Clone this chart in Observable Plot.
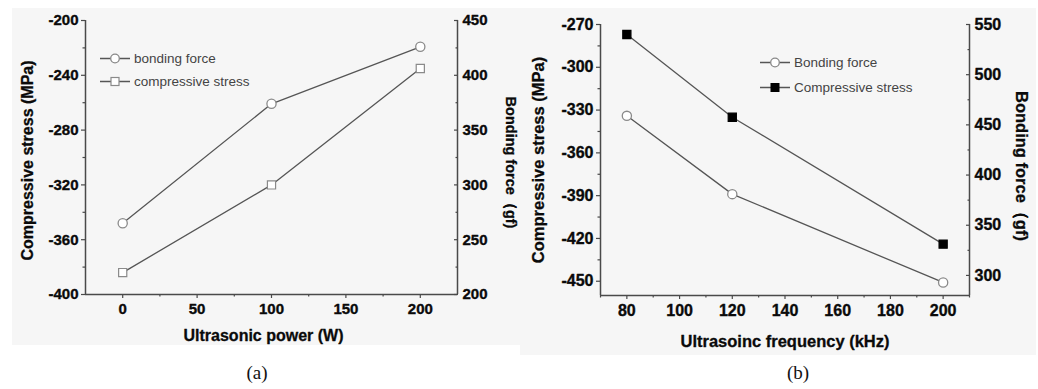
<!DOCTYPE html>
<html>
<head>
<meta charset="utf-8">
<script src="https://cdn.jsdelivr.net/npm/d3@7"></script>
<script src="https://cdn.jsdelivr.net/npm/@observablehq/plot@0.6"></script>
<style>
  html, body { margin: 0; padding: 0; background: #fff; }
  #root { position: relative; width: 1038px; height: 389px; overflow: hidden; background: #fff; font-family: "Liberation Sans", Arial, sans-serif; }
  .bg { position: absolute; background: #f6f6f6; }
  .panel { position: absolute; top: 0; }
  .cap { position: absolute; font-family: "Liberation Serif", "Times New Roman", serif; font-size: 19px; color: #111; transform: translate(-50%, -50%); }
  .legend { position: absolute; font-size: 13.5px; color: #444; }
  .legend .row { position: absolute; left: 0; white-space: nowrap; display: flex; align-items: center; transform: translateY(-50%); }
  .legend svg { display: block; margin-right: 4px; }
</style>
</head>
<body>
<div id="root">
  <div class="bg" style="left:12px;top:8px;width:508px;height:337px"></div>
  <div class="bg" style="left:520px;top:8px;width:516px;height:347px"></div>
  <div class="panel" id="pa" style="left:0px"></div>
  <div class="panel" id="pb" style="left:519px"></div>
  <div class="cap" style="left:257px;top:373px">(a)</div>
  <div class="cap" style="left:798px;top:373px">(b)</div>
  <div class="legend" id="lega" style="left:100px;top:0px"></div>
  <div class="legend" id="legb" style="left:760px;top:0px"></div>
</div>
<script>
// ---------- Data: panel (a) ----------
const aPower = [0, 100, 200];
const aBondingForce = [265, 374, 426];        // gf (right axis)
const aCompressiveStress = [-384, -320, -235]; // MPa (left axis)
const aXTicks = [0, 50, 100, 150, 200];
const aXMinor = [25, 75, 125, 175];
const aLeftTicks = [-400, -360, -320, -280, -240, -200];
const aLeftMinor = [-380, -340, -300, -260, -220];
const aRightTicks = [200, 250, 300, 350, 400, 450];
const aRightMinor = [225, 275, 325, 375, 425];

// ---------- Data: panel (b) ----------
const bFrequency = [80, 120, 200];
const bBondingForce = [459, 381, 293];         // gf (right axis)
const bCompressiveStress = [-277, -335, -424]; // MPa (left axis)
const bXTicks = [80, 100, 120, 140, 160, 180, 200];
const bXMinor = [70, 90, 110, 130, 150, 170, 190, 210];
const bLeftTicks = [-450, -420, -390, -360, -330, -300, -270];
const bLeftMinor = [-435, -405, -375, -345, -315, -285];
const bRightTicks = [300, 350, 400, 450, 500, 550];
const bRightMinor = [325, 375, 425, 475, 525];

const AX = "#4a4a4a";
const LINE = "#555";
const FONT = "'Liberation Sans', Arial, sans-serif";

function panel(cfg) {
  const [l0, l1] = cfg.leftDomain, [r0, r1] = cfg.rightDomain;
  const toLeft = r => l0 + (r - r0) * (l1 - l0) / (r1 - r0);
  const rows = cfg.x.map((x, i) => ({x, stress: cfg.stress[i], bond: toLeft(cfg.bond[i])}));
  const tl = {fontSize: cfg.tickFont, fontWeight: "bold", fill: "#0a0a0a", stroke: "#0a0a0a", strokeWidth: 0.35, fontFamily: FONT};
  const ttl = {fontWeight: "bold", fill: "#0a0a0a", stroke: "#0a0a0a", strokeWidth: 0.3, textAnchor: "middle", lineAnchor: "middle"};
  const tick = {stroke: AX, strokeWidth: 1.2, text: null, label: null};
  return Plot.plot({
    width: 519, height: 389,
    marginLeft: cfg.ml, marginRight: cfg.mr, marginTop: cfg.mt, marginBottom: cfg.mb,
    style: {background: "transparent", fontFamily: FONT, overflow: "visible"},
    x: {domain: cfg.xDomain},
    y: {domain: cfg.leftDomain},
    marks: [
      // ticks (major + minor)
      Plot.axisX({ticks: cfg.xTicks, tickSize: 4, ...tick}),
      Plot.axisX({ticks: cfg.xMinor, tickSize: 2.5, ...tick}),
      Plot.axisY({ticks: cfg.leftTicks, anchor: "left", tickSize: 4, ...tick}),
      Plot.axisY({ticks: cfg.leftMinor, anchor: "left", tickSize: 2.5, ...tick}),
      Plot.axisY({ticks: cfg.rightTicks.map(toLeft), anchor: "right", tickSize: -4, ...tick}),
      Plot.axisY({ticks: cfg.rightMinor.map(toLeft), anchor: "right", tickSize: -2.5, ...tick}),
      // tick labels
      Plot.text(cfg.xTicks, {x: d => d, text: d => String(d), frameAnchor: "bottom", dy: 9, lineAnchor: "top", textAnchor: "middle", ...tl}),
      Plot.text(cfg.leftTicks, {y: d => d, text: d => String(d), frameAnchor: "left", dx: -7, textAnchor: "end", lineAnchor: "middle", ...tl}),
      Plot.text(cfg.rightTicks, {y: d => toLeft(d), text: d => String(d), frameAnchor: "right", dx: 5, textAnchor: "start", lineAnchor: "middle", ...tl}),
      // axis lines
      Plot.ruleX([cfg.xDomain[0]], {stroke: AX, strokeWidth: 1.5}),
      Plot.ruleX([cfg.xDomain[1]], {stroke: AX, strokeWidth: 1.5}),
      Plot.ruleY([cfg.leftDomain[0]], {stroke: AX, strokeWidth: 1.5}),
      // data
      Plot.line(rows, {x: "x", y: "stress", stroke: LINE, strokeWidth: 1.3}),
      Plot.line(rows, {x: "x", y: "bond", stroke: LINE, strokeWidth: 1.3}),
      Plot.dot(rows, {x: "x", y: "bond", r: 4.6, symbol: "circle", stroke: "#8a8a8a", strokeWidth: 1.3, fill: "#fff"}),
      Plot.dot(rows, {x: "x", y: "stress", r: 4.6, symbol: "square",
        stroke: cfg.filled ? "#000" : "#8a8a8a", strokeWidth: 1.2, fill: cfg.filled ? "#000" : "#fff"}),
      // axis titles
      Plot.text([cfg.leftTitle], {frameAnchor: "left", dx: cfg.leftTitleDx, dy: cfg.leftTitleDy, rotate: -90, fontSize: cfg.titleFont, ...ttl}),
      Plot.text([cfg.rightTitle], {frameAnchor: "right", dx: cfg.rightTitleDx, dy: cfg.rightTitleDy, rotate: 90, fontSize: cfg.rightTitleFont, ...ttl}),
      Plot.text([cfg.xTitle], {frameAnchor: "bottom", dx: cfg.xTitleDx, dy: cfg.xTitleDy, fontSize: cfg.titleFont, ...ttl})
    ]
  });
}

document.getElementById("pa").appendChild(panel({
  x: aPower, stress: aCompressiveStress, bond: aBondingForce, filled: false,
  xDomain: [-25, 225], leftDomain: [-400, -200], rightDomain: [200, 450],
  xTicks: aXTicks, xMinor: aXMinor, leftTicks: aLeftTicks, leftMinor: aLeftMinor,
  rightTicks: aRightTicks, rightMinor: aRightMinor,
  ml: 85, mr: 62, mt: 20, mb: 95, tickFont: 15, titleFont: 16, rightTitleFont: 14.5,
  leftTitle: "Compressive stress (MPa)", rightTitle: "Bonding force（gf)", xTitle: "Ultrasonic power (W)",
  leftTitleDx: -58, leftTitleDy: 3, rightTitleDx: 53, rightTitleDy: 5, xTitleDx: -8, xTitleDy: 41
}));

document.getElementById("pb").appendChild(panel({
  x: bFrequency, stress: bCompressiveStress, bond: bBondingForce, filled: true,
  xDomain: [70, 210], leftDomain: [-460, -270], rightDomain: [280, 550],
  xTicks: bXTicks, xMinor: bXMinor, leftTicks: bLeftTicks, leftMinor: bLeftMinor,
  rightTicks: bRightTicks, rightMinor: bRightMinor,
  ml: 81, mr: 69, mt: 24, mb: 94, tickFont: 16, titleFont: 16.5, rightTitleFont: 16.5,
  leftTitle: "Compressive stress (MPa)", rightTitle: "Bonding force（gf)", xTitle: "Ultrasoinc frequency (kHz)",
  leftTitleDx: -62, leftTitleDy: 0, rightTitleDx: 52, rightTitleDy: 6, xTitleDx: 0, xTitleDy: 46
}));

// ---------- Legends ----------
function symbolSvg(kind) {
  const mk = kind === "circle"
    ? '<circle cx="15" cy="7" r="4.3" fill="#fff" stroke="#8a8a8a" stroke-width="1.3"/>'
    : kind === "square"
      ? '<rect x="11" y="3" width="8" height="8" fill="#fff" stroke="#8a8a8a" stroke-width="1.2"/>'
      : '<rect x="11" y="3" width="8" height="8" fill="#000" stroke="#000" stroke-width="1"/>';
  return '<svg width="30" height="14"><line x1="0" y1="7" x2="30" y2="7" stroke="#555" stroke-width="1.3"/>' + mk + '</svg>';
}
function legend(id, items) {
  const el = document.getElementById(id);
  items.forEach(it => {
    const row = document.createElement("div");
    row.className = "row";
    row.style.top = it.y + "px";
    row.innerHTML = symbolSvg(it.kind) + "<span>" + it.label + "</span>";
    el.appendChild(row);
  });
}
legend("lega", [
  {label: "bonding force", kind: "circle", y: 58},
  {label: "compressive stress", kind: "square", y: 81}
]);
legend("legb", [
  {label: "Bonding force", kind: "circle", y: 62},
  {label: "Compressive stress", kind: "filled", y: 87}
]);
</script>
</body>
</html>
